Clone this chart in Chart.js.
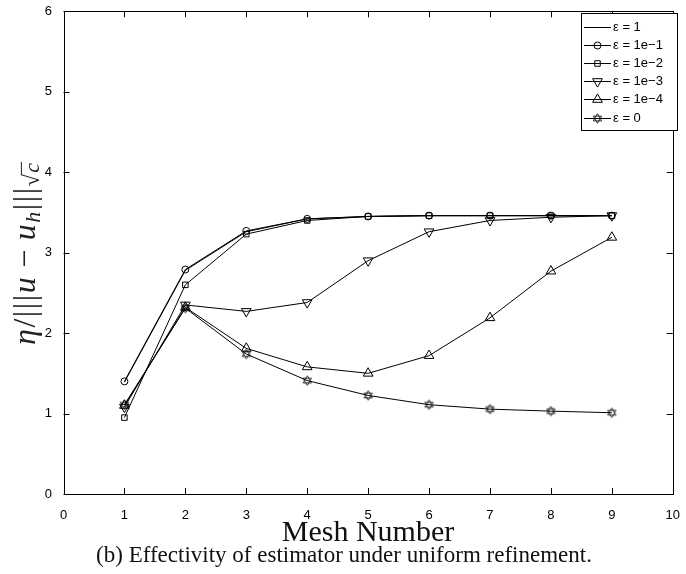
<!DOCTYPE html>
<html>
<head>
<meta charset="utf-8">
<script src="https://cdn.jsdelivr.net/npm/chart.js@4.4.0/dist/chart.umd.min.js"></script>
<style>
  html, body { margin: 0; padding: 0; background: #fff; }
  #wrap { width: 686px; height: 574px; }
</style>
</head>
<body>
<div id="wrap"><canvas id="effChart" width="686" height="574"></canvas></div>
<script>
// mesh levels and effectivity index per epsilon
const meshNumbers = [1, 2, 3, 4, 5, 6, 7, 8, 9];
const effEps1    = [1.39, 2.78, 3.26, 3.42, 3.45, 3.46, 3.46, 3.46, 3.46];
const effEps1e1  = [1.40, 2.79, 3.27, 3.42, 3.45, 3.46, 3.46, 3.46, 3.46];
const effEps1e2  = [0.95, 2.60, 3.23, 3.40, 3.45, 3.46, 3.46, 3.46, 3.46];
const effEps1e3  = [1.08, 2.35, 2.27, 2.38, 2.90, 3.26, 3.40, 3.44, 3.46];
const effEps1e4  = [1.10, 2.32, 1.81, 1.58, 1.50, 1.72, 2.19, 2.77, 3.19];
const effEps0    = [1.11, 2.31, 1.74, 1.41, 1.225, 1.11, 1.055, 1.03, 1.01];

const seriesLabels = ['ε = 1', 'ε = 1e−1', 'ε = 1e−2', 'ε = 1e−3', 'ε = 1e−4', 'ε = 0'];
const xTicks = [0, 1, 2, 3, 4, 5, 6, 7, 8, 9, 10];
const yTicks = [0, 1, 2, 3, 4, 5, 6];

const xTitle = 'Mesh Number';
const caption = '(b) Effectivity of estimator under uniform refinement.';

// six-pointed star marker, drawn once into a small canvas
function makeHexagram(r) {
  const c = document.createElement('canvas');
  const s = Math.ceil(r * 2 + 3);
  c.width = s; c.height = s;
  const g = c.getContext('2d');
  g.strokeStyle = '#000';
  g.lineWidth = 0.8;
  const cx = s / 2, cy = s / 2;
  [0, Math.PI].forEach(off => {
    g.beginPath();
    for (let i = 0; i < 3; i++) {
      const a = off - Math.PI / 2 + i * 2 * Math.PI / 3;
      const px = cx + r * Math.cos(a), py = cy + r * Math.sin(a);
      if (i === 0) g.moveTo(px, py); else g.lineTo(px, py);
    }
    g.closePath();
    g.stroke();
  });
  return c;
}
const hexagram = makeHexagram(4.8);

const markers = [
  { pointStyle: 'circle', radius: 0, rotation: 0 },
  { pointStyle: 'circle', radius: 3.5, rotation: 0 },
  { pointStyle: 'rect', radius: 3.9, rotation: 0 },
  { pointStyle: 'triangle', radius: 5.6, rotation: 180 },
  { pointStyle: 'triangle', radius: 5.6, rotation: 0 },
  { pointStyle: hexagram, radius: 4.8, rotation: 0 },
];
const seriesValues = [effEps1, effEps1e1, effEps1e2, effEps1e3, effEps1e4, effEps0];

const datasets = seriesValues.map((vals, i) => ({
  label: seriesLabels[i],
  data: meshNumbers.map((m, j) => ({ x: m, y: vals[j] })),
  borderColor: '#000',
  borderWidth: 1,
  pointStyle: markers[i].pointStyle,
  pointRadius: markers[i].radius,
  pointRotation: markers[i].rotation,
  pointBorderColor: '#000',
  pointBackgroundColor: 'rgba(0,0,0,0)',
  pointBorderWidth: 1,
  tension: 0,
  fill: false,
}));

const TICK_LEN = 6;
const SERIF = '"Liberation Serif", "Times New Roman", serif';

// y title pieces: eta / |||u - u_h|||_{sqrt c}
const big = 32, small = 22;
const yTitleGlyphs = [
  { t: 'η', italic: true, size: big, dy: 0 },
  { t: '/', size: big, dy: 0 },
  { t: '|', size: big, dy: 0 },
  { t: '|', size: big, dy: 0 },
  { t: '|', size: big, dy: 0 },
  { t: 'u', italic: true, size: big, dy: 0 },
  { t: ' − ', size: big, dy: 0 },
  { t: 'u', italic: true, size: big, dy: 0 },
  { t: 'h', italic: true, size: small, dy: 5 },
  { t: '|', size: big, dy: 0 },
  { t: '|', size: big, dy: 0 },
  { t: '|', size: big, dy: 0 },
  { t: '√', size: small, dy: 4 },
  { t: 'c', italic: true, size: small, dy: 4, bar: true },
];

function drawYTitle(ctx, x, yStart, length) {
  const fontOf = g => `${g.italic ? 'italic ' : ''}${g.size}px ${SERIF}`;
  const widths = yTitleGlyphs.map(g => { ctx.font = fontOf(g); return ctx.measureText(g.t).width; });
  const natural = widths.reduce((s, w) => s + w, 0);
  const gap = Math.max(0, (length - natural) / (yTitleGlyphs.length - 1));
  ctx.save();
  ctx.translate(x, yStart);
  ctx.rotate(-Math.PI / 2);
  ctx.textAlign = 'left';
  ctx.textBaseline = 'alphabetic';
  ctx.fillStyle = '#222';
  ctx.strokeStyle = '#222';
  let u = 0;
  yTitleGlyphs.forEach((g, i) => {
    ctx.font = fontOf(g);
    ctx.fillText(g.t, u, g.dy);
    if (g.bar) {
      ctx.beginPath();
      ctx.moveTo(u - gap - 1, g.dy - g.size * 0.8);
      ctx.lineTo(u + widths[i] + 1, g.dy - g.size * 0.8);
      ctx.stroke();
    }
    u += widths[i] + gap;
  });
  ctx.restore();
}

// box, inward ticks, legend, axis titles and caption
const figureDecor = {
  id: 'figureDecor',
  afterDraw(chart) {
    const ctx = chart.ctx;
    const a = chart.chartArea;
    const xs = chart.scales.x, ys = chart.scales.y;
    ctx.save();
    ctx.strokeStyle = '#000';
    ctx.lineWidth = 1;
    ctx.strokeRect(Math.round(a.left) + 0.5, Math.round(a.top) + 0.5,
      Math.round(a.right - a.left), Math.round(a.bottom - a.top));

    ctx.beginPath();
    xTicks.forEach(v => {
      const px = Math.round(xs.getPixelForValue(v)) + 0.5;
      ctx.moveTo(px, a.bottom); ctx.lineTo(px, a.bottom - TICK_LEN);
      ctx.moveTo(px, a.top); ctx.lineTo(px, a.top + TICK_LEN);
    });
    yTicks.forEach(v => {
      const py = Math.round(ys.getPixelForValue(v)) + 0.5;
      ctx.moveTo(a.left, py); ctx.lineTo(a.left + TICK_LEN, py);
      ctx.moveTo(a.right, py); ctx.lineTo(a.right - TICK_LEN, py);
    });
    ctx.stroke();

    // legend
    const lx = 581, ly = 13, lw = 96, lh = 117;
    ctx.fillStyle = '#fff';
    ctx.fillRect(lx, ly, lw, lh);
    ctx.strokeRect(lx + 0.5, ly + 0.5, lw, lh);
    ctx.font = '13px "Liberation Sans", Arial, sans-serif';
    ctx.textBaseline = 'middle';
    seriesLabels.forEach((lab, i) => {
      const y = Math.round(26.5 + i * 18.2) + 0.5;
      ctx.beginPath();
      ctx.moveTo(lx + 3, y); ctx.lineTo(lx + 30, y);
      ctx.stroke();
      if (markers[i].radius > 0) {
        ctx.fillStyle = 'rgba(0,0,0,0)';
        Chart.helpers.drawPoint(ctx, {
          pointStyle: markers[i].pointStyle,
          rotation: markers[i].rotation,
          radius: markers[i].radius,
          borderWidth: 1,
        }, lx + 16.5, y);
      }
      ctx.fillStyle = '#000';
      ctx.fillText(lab, lx + 32, y);
    });

    // x title and caption
    ctx.fillStyle = '#111';
    ctx.textAlign = 'center';
    ctx.textBaseline = 'alphabetic';
    ctx.font = `30px ${SERIF}`;
    ctx.fillText(xTitle, 368, 541);
    ctx.font = `23px ${SERIF}`;
    ctx.fillText(caption, 344, 562);

    drawYTitle(ctx, 35, 345, 182);
    ctx.restore();
  },
};

new Chart(document.getElementById('effChart'), {
  type: 'line',
  data: { datasets },
  plugins: [figureDecor],
  options: {
    responsive: false,
    animation: false,
    devicePixelRatio: 1,
    layout: { padding: { left: 0, top: 9, right: 7, bottom: 0 } },
    plugins: { legend: { display: false }, tooltip: { enabled: false } },
    scales: {
      x: {
        type: 'linear', min: 0, max: 10,
        afterFit: s => { s.height = 80; },
        afterBuildTicks: s => { s.ticks = xTicks.map(v => ({ value: v })); },
        ticks: { color: '#000', font: { size: 13, family: '"Liberation Sans", Arial, sans-serif' }, padding: 6, maxRotation: 0 },
        grid: { display: false },
        border: { display: false },
      },
      y: {
        type: 'linear', min: 0, max: 6,
        afterFit: s => { s.width = 63.5; },
        afterBuildTicks: s => { s.ticks = yTicks.map(v => ({ value: v })); },
        ticks: { color: '#000', font: { size: 13, family: '"Liberation Sans", Arial, sans-serif' }, padding: 3.5 },
        grid: { display: false },
        border: { display: false },
      },
    },
  },
});
</script>
</body>
</html>
